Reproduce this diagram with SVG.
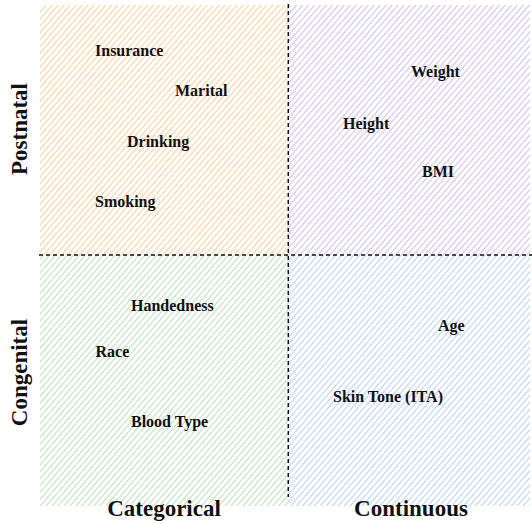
<svg xmlns="http://www.w3.org/2000/svg" width="532" height="524" viewBox="0 0 532 524">
<style>
.t{font-family:"Liberation Serif","Times New Roman",serif;font-weight:bold;font-size:16px;fill:#111}
.ax{font-family:"Liberation Serif","Times New Roman",serif;font-weight:bold;font-size:23px;fill:#111}
.dash{stroke:#111;stroke-width:1.5;stroke-dasharray:4 3;fill:none}
</style>
<defs>
<pattern id="hO" patternUnits="userSpaceOnUse" width="4.5" height="10" patternTransform="rotate(41)"><line x1="2.25" y1="0" x2="2.25" y2="10" stroke="#fbd1a8" stroke-width="1.2"/></pattern>
<pattern id="hP" patternUnits="userSpaceOnUse" width="4.5" height="10" patternTransform="rotate(41)"><line x1="2.25" y1="0" x2="2.25" y2="10" stroke="#d3c6e6" stroke-width="1.2"/></pattern>
<pattern id="hG" patternUnits="userSpaceOnUse" width="4.5" height="10" patternTransform="rotate(41)"><line x1="2.25" y1="0" x2="2.25" y2="10" stroke="#c3e0c3" stroke-width="1.2"/></pattern>
<pattern id="hB" patternUnits="userSpaceOnUse" width="4.5" height="10" patternTransform="rotate(41)"><line x1="2.25" y1="0" x2="2.25" y2="10" stroke="#bfd5f3" stroke-width="1.2"/></pattern>
</defs>
<rect width="532" height="524" fill="#fff"/>
<g id="postnatal-categorical">
<rect x="40" y="5" width="248" height="250" fill="url(#hO)"/>
<text class="t" x="95" y="56">Insurance</text>
<text class="t" x="175" y="96">Marital</text>
<text class="t" x="127" y="147">Drinking</text>
<text class="t" x="95" y="207">Smoking</text>
</g>
<g id="postnatal-continuous">
<rect x="288" y="5" width="242" height="250" fill="url(#hP)"/>
<text class="t" x="411" y="77">Weight</text>
<text class="t" x="343" y="129">Height</text>
<text class="t" x="422" y="177">BMI</text>
</g>
<g id="congenital-categorical">
<rect x="40" y="255" width="248" height="251" fill="url(#hG)"/>
<text class="t" x="131" y="311">Handedness</text>
<text class="t" x="95.5" y="357">Race</text>
<text class="t" x="131" y="427">Blood Type</text>
</g>
<g id="congenital-continuous">
<rect x="288" y="255" width="242" height="251" fill="url(#hB)"/>
<text class="t" x="438" y="331">Age</text>
<text class="t" x="333" y="402">Skin Tone (ITA)</text>
</g>
<g id="connectors">
<line class="dash" x1="288.3" y1="4" x2="288.3" y2="497"/>
<line class="dash" x1="39" y1="255" x2="532" y2="255"/>
</g>
<g id="axis-labels">
<text class="ax" x="164" y="516" text-anchor="middle">Categorical</text>
<text class="ax" x="411" y="516" text-anchor="middle">Continuous</text>
<text class="ax" transform="translate(26.5,129) rotate(-90)" text-anchor="middle">Postnatal</text>
<text class="ax" transform="translate(26.5,372.5) rotate(-90)" text-anchor="middle">Congenital</text>
</g>
</svg>
